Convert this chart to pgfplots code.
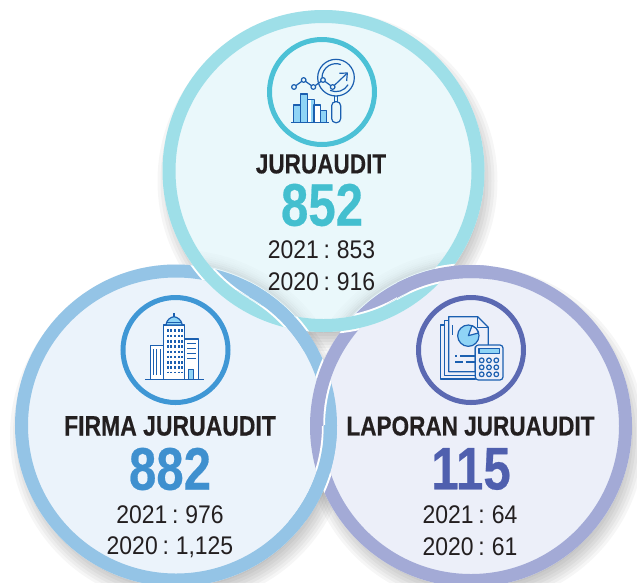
\documentclass[border=0pt]{standalone}
\usepackage{pgfplots}
\pgfplotsset{compat=1.18}
\usepackage{fontspec}
\setmainfont{Liberation Sans}
\newfontfamily\cond[FakeStretch=0.9,WordSpace=0.75]{Liberation Sans}
\newfontfamily\condb[FakeStretch=0.82,FakeBold=0.4]{Liberation Sans Bold}
\definecolor{tring}{HTML}{9EDFE8}\definecolor{tfill}{HTML}{EAF8FB}\definecolor{tic}{HTML}{4CC1D6}\definecolor{tnum}{HTML}{43BFCF}
\definecolor{lring}{HTML}{94C4E6}\definecolor{lfill}{HTML}{EBF3FB}\definecolor{lic}{HTML}{3F97D5}\definecolor{lnum}{HTML}{3F90CF}
\definecolor{rring}{HTML}{A3AAD6}\definecolor{rfill}{HTML}{ECEFF9}\definecolor{ric}{HTML}{5B69B2}\definecolor{rnum}{HTML}{4F5FAE}
\definecolor{ink}{HTML}{231F20}\definecolor{iconl}{HTML}{1B5FB0}\definecolor{iconf}{HTML}{8FD4F6}
\newcommand{\softshadow}[2]{%
 \pgfplotsinvokeforeach{146,149,152,155,158,161,164,167,170}{%
  \fill[black,opacity=0.034] (axis cs:#1+4,#2+10) circle[radius=##1pt];}}
\newcommand{\ringshadow}[2]{%
 \pgfplotsinvokeforeach{0.09/163,0.07/165,0.05/167,0.035/169,0.025/171,0.015/173,0.01/175}{%
  \ringsh{#1}{#2}##1\relax}}
\def\ringsh#1#2#3/#4\relax{\draw[black,opacity=#3,line width=2pt] (axis cs:#1,#2) circle[radius=#4pt];}
\newcommand{\ring}[3]{\draw[#3,line width=13pt] (axis cs:#1,#2) circle[radius=154.5pt];}
\newcommand{\halo}[2]{\draw[white,line width=17pt] (axis cs:#1,#2) circle[radius=154.5pt];}
\newcommand{\annclip}[2]{%
 \clip (axis cs:#1,#2) circle[radius=161pt];
 \clip (axis cs:700,-50)--(axis cs:700,650)--(axis cs:-50,650)--(axis cs:-50,-50)--cycle (axis cs:#1,#2) circle[radius=148pt];}
\newcommand{\boxclip}[4]{\clip (axis cs:#1,#2) rectangle (axis cs:#3,#4);}
\newcommand{\txt}[4]{\node[text=#4,inner sep=0pt,anchor=center] at (axis cs:#1,#2) {#3};}
\begin{document}
\begin{tikzpicture}
\useasboundingbox (0,0) rectangle (637pt,582pt);
\clip (0,0) rectangle (637pt,582pt);
\begin{axis}[at={(0,0)},anchor=south west,scale only axis,width=637pt,height=582pt,
 xmin=0,xmax=637,ymin=0,ymax=582,y dir=reverse,hide axis,clip=false]
\fill[white] (axis cs:0,0) rectangle (axis cs:637,582);
\softshadow{176}{425.5}
\softshadow{471}{426}
\softshadow{323.5}{171}
\fill[lfill] (axis cs:176,425.5) circle[radius=161pt];
\fill[rfill] (axis cs:471,426) circle[radius=161pt];
\fill[tfill] (axis cs:323.5,171) circle[radius=161pt];
\begin{scope}\clip (axis cs:323.5,171) circle[radius=148pt];
\ringshadow{176}{425.5}
\ringshadow{471}{426}
\end{scope}
\ring{176}{425.5}{lring}
\begin{scope}\boxclip{290}{340}{356}{424}\annclip{176}{425.5}\halo{471}{426}\end{scope}
\ring{471}{426}{rring}
\begin{scope}\boxclip{150}{240}{249}{300}\annclip{176}{425.5}\halo{323.5}{171}\end{scope}
\begin{scope}\boxclip{397}{340}{300}{280}\annclip{471}{426}\halo{323.5}{171}\end{scope}
\ring{323.5}{171}{tring}
\begin{scope}\boxclip{249}{280}{318}{350}
 \begin{scope}\annclip{323.5}{171}\halo{176}{425.5}\end{scope}
 \ring{176}{425.5}{lring}\end{scope}
\begin{scope}\boxclip{397}{250}{490}{315}
 \begin{scope}\annclip{323.5}{171}\halo{471}{426}\end{scope}
 \ring{471}{426}{rring}\end{scope}
\begin{scope}\boxclip{280}{426}{366}{520}
 \begin{scope}\annclip{471}{426}\halo{176}{425.5}\end{scope}
 \ring{176}{425.5}{lring}\end{scope}
\draw[tic,line width=5pt] (axis cs:322,92) circle[radius=52.5pt];
\draw[lic,line width=5pt] (axis cs:175.5,350) circle[radius=52.5pt];
\draw[ric,line width=5pt] (axis cs:471,350) circle[radius=52.5pt];
% --- icon: top
\begin{scope}[shift={(axis cs:240,20)},x=0.3333pt,y=-0.3333pt,draw=iconl,line width=1.2pt,line join=round]
 \filldraw[fill=iconf] (160,307) rectangle (181,255);
 \filldraw[fill=iconf] (181,307) rectangle (203,222);
 \filldraw[fill=white] (203,307) rectangle (222,238);
 \fill[iconf] (212,306) rectangle (221,240);
 \filldraw[fill=white] (222,307) rectangle (242,255);
 \filldraw[fill=iconf] (242,307) rectangle (260,271);
 \draw (153,307)--(268,307);
 \draw (162,201)--(191,180)--(220,201)--(249,180)--(278,201)--(320,161);
 \draw (298,160)--(322,159)--(320,183);
 \filldraw[fill=tfill] (162,201) circle[radius=7];
 \filldraw[fill=tfill] (191,180) circle[radius=7];
 \filldraw[fill=tfill] (220,201) circle[radius=7];
 \filldraw[fill=tfill] (249,180) circle[radius=7];
 \filldraw[fill=tfill] (278,201) circle[radius=7];
 \draw (288,173) circle[radius=55];
 \draw (246,173) arc[start angle=180,end angle=290,radius=42];
 \draw (324.4,194) arc[start angle=30,end angle=115,radius=42];
 \draw (283,228)--(283,245) (293,228)--(293,245);
 \draw[rounded corners=4pt] (275,245) rectangle (302,308);
\end{scope}
% --- icon: left
\begin{scope}[shift={(axis cs:100,280)},x=0.3333pt,y=-0.3333pt,draw=iconl,line width=1.2pt,line join=round]
 \filldraw[fill=white] (151,298)--(151,197)--(191,197)--(191,298);
 \filldraw[fill=white] (254,298)--(254,177)--(296,177)--(296,298);
 \filldraw[fill=white] (191,298)--(191,135)--(254,135)--(254,298);
 \filldraw[fill=iconf] (198,135) .. controls (200,118) and (212,112) .. (222,110) .. controls (232,112) and (244,118) .. (247,135) --cycle;
 \draw (222,110)--(222,100);
 \draw (198,128)--(247,128);
 \draw[line width=1.9pt,dash pattern=on 2.6pt off 2.7pt] (203,148)--(203,280) (214,148)--(214,280) (225,148)--(225,280) (236,148)--(236,280) (246,148)--(246,280);
 \draw[line width=1.5pt] (160,208)--(160,285) (170,208)--(170,285) (181,208)--(181,285);
 \draw[line width=1.5pt] (262,190)--(288,190) (262,205)--(288,205) (262,220)--(288,220) (262,235)--(288,235);
 \filldraw[fill=iconf] (265,298) rectangle (281,268);
 \draw[line width=1.4pt] (135,298)--(312,298);
\end{scope}
% --- icon: right
\begin{scope}[shift={(axis cs:400,280)},x=0.3333pt,y=-0.3333pt,draw=iconl,line width=1.2pt,line join=round]
 \filldraw[fill=rfill] (122,135)--(122,297)--(226,297)--(226,135)--cycle;
 \filldraw[fill=rfill] (133,122)--(133,286)--(226,286)--(226,122)--cycle;
 \filldraw[fill=rfill] (146,110)--(233,110)--(265,142)--(265,200)--(226,200)--(226,275)--(146,275)--cycle;
 \draw (233,110)--(233,142)--(265,142);
 \filldraw[fill=iconf] (205,167) circle[radius=32];
 \filldraw[fill=rfill] (205,167)--(216,137) arc[start angle=-70,end angle=-15,radius=32]--cycle;
 \draw (157,135)--(157,165);
 \draw (165,228)--(172,228) (180,228)--(225,228);
 \draw (165,246)--(190,246) (197,246)--(225,246);
 \filldraw[fill=rfill,rounded corners=3pt] (226,195) rectangle (309,300);
 \filldraw[fill=iconf] (237,205) rectangle (298,220);
 \draw (245,241) circle[radius=7] (267,241) circle[radius=7] (289,241) circle[radius=7];
 \draw (245,262) circle[radius=7] (267,262) circle[radius=7] (289,262) circle[radius=7];
 \draw (245,283) circle[radius=7] (267,283) circle[radius=7] (289,283) circle[radius=7];
\end{scope}
% --- text
\txt{321}{164}{\fontsize{27.5}{27}\condb JURUAUDIT}{ink}
\txt{322}{205}{\fontsize{60}{60}\condb 852}{tnum}
\txt{321.5}{250}{\fontsize{25.5}{25}\cond 2021 : 853}{ink}
\txt{321.5}{282}{\fontsize{25.5}{25}\cond 2020 : 916}{ink}
\txt{170}{426}{\fontsize{28}{27}\condb FIRMA JURUAUDIT}{ink}
\txt{170}{469}{\fontsize{60}{60}\condb 882}{lnum}
\txt{170}{515}{\fontsize{25.5}{25}\cond 2021 : 976}{ink}
\txt{170}{547}{\fontsize{25.5}{25}\cond 2020 : 1,125}{ink}
\txt{470.5}{426}{\fontsize{27.5}{27}\condb LAPORAN JURUAUDIT}{ink}
\txt{471}{469}{\fontsize{60}{60}\condb 115}{rnum}
\txt{470}{515}{\fontsize{25.5}{25}\cond 2021 : 64}{ink}
\txt{470}{547}{\fontsize{25.5}{25}\cond 2020 : 61}{ink}
\end{axis}
\end{tikzpicture}
\end{document}
